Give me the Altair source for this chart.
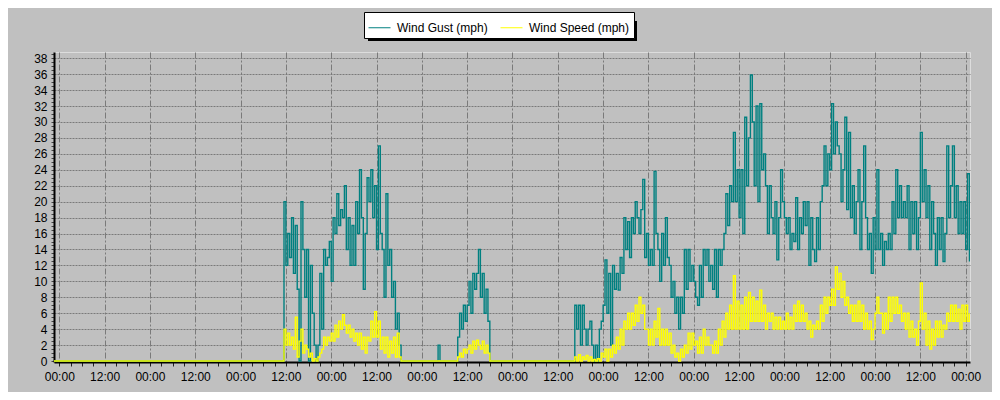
import altair as alt
import pandas as pd

SERIES = ["Wind Gust (mph)", "Wind Speed (mph)"]
COLORS = ["#008080", "#FFFF00"]
STEP_H = 0.5  # sampling interval of the readings, hours

# hours since the first 00:00 on the axis
START_0 = -2.0
GUST_0 = [0]
SPEED_0 = [0]

START_1 = 59.5
GUST_1 = [20, 12, 16, 13, 18, 11, 17, 9, 0, 20,
          14, 8, 14, 0, 12, 6, 2, 0, 2, 11,
          4, 14, 12, 13, 15, 10, 18, 16, 21, 17,
          19, 18, 22, 14, 18, 12, 17, 12, 20, 16,
          24, 18, 9, 16, 23, 20, 24, 18, 22, 14,
          27, 16, 14, 8, 21, 12, 14, 8, 10, 4,
          6, 2, 0]
SPEED_1 = [4, 2, 3.5, 2, 3, 1.5, 5.5, 0.5, 2.5, 4,
           1, 2, 1.5, 0.5, 1, 0, 0.3, 0, 0.5, 1,
           1.5, 3, 2, 3, 2.5, 3.5, 2.5, 4.5, 3, 5,
           4, 5.8, 4.5, 3.5, 4.5, 3, 4, 2.5, 3.5, 2,
           3.5, 1.5, 3, 1, 3, 2.5, 5, 3, 6.2, 3,
           5, 1.5, 3, 1, 3, 0.5, 2.5, 1, 3, 0.5,
           3.5, 0.5, 0]

START_2 = 100.3
GUST_2 = [2, 0]
SPEED_2 = [0, 0]

START_3 = 105.5
GUST_3 = [3, 6, 4, 7, 5, 7, 10, 6, 11, 9, 11, 14, 8, 11, 6, 9, 5, 0]
SPEED_3 = [0.5, 1, 0.5, 1.5, 1, 1.5, 2, 1, 2.5, 1.5, 2.6, 2, 1.5, 2.5, 1, 2, 1, 0]

START_4 = 136.5
GUST_4 = [7, 4, 7, 2, 7, 4, 2, 4, 5, 2,
          0, 2, 0, 4, 5, 7, 12.7, 6, 11, 2,
          12, 9, 11, 8.9, 13, 11, 18, 14, 17.5, 13,
          18, 16, 20, 18, 16, 19, 22.8, 13, 16, 12,
          14, 12, 23.8, 16, 14, 10, 16, 12, 18, 13,
          12, 8, 10, 6, 8, 4, 8, 6, 14, 9,
          14, 10, 12, 10, 8, 7, 12, 8, 14, 12,
          14, 10, 12, 9, 14, 8, 14, 12, 14, 16,
          21, 17, 22, 20, 28.7, 20, 24, 18, 24, 16,
          30.6, 22, 28, 35.9, 30, 22, 32, 20, 32.3, 24,
          26, 22, 16, 22, 18, 16, 20, 12.7, 18, 24,
          20, 18, 16, 18, 14, 16, 15, 20.5, 14, 18,
          16, 20, 17, 20, 12, 18, 14, 12.5, 18, 14,
          20, 22, 27, 22, 26, 24, 32.3, 26, 30, 27,
          26, 20, 24, 30.6, 19, 28.7, 18, 22, 16, 20,
          24, 14, 20, 27, 18, 14, 16, 11, 18, 14,
          24, 14, 16, 12, 15, 14, 16, 14, 20, 16,
          24, 18, 22, 18, 20, 18, 22, 14, 20, 16,
          20, 14, 18, 28.7, 20, 24, 18, 22, 14, 20,
          16, 12, 18, 14, 18, 12.5, 16, 27, 18, 22,
          27, 18, 22, 16, 20, 16, 20, 14, 23.5, 12.5]
SPEED_4 = [0.5, 0, 0.8, 0, 0.5, 0.2, 0.7, 0, 0.5, 0,
           0.2, 0, 0.3, 0, 1, 0.5, 1.5, 0, 1.5, 0.5,
           2, 1, 3, 1.5, 4, 2, 5, 4, 6, 4,
           6, 4.5, 7, 5, 8, 6, 7, 4, 4, 2,
           4, 2, 5, 3, 6.6, 2, 4, 2, 4, 2,
           3.5, 1, 2, 0.5, 1, 0, 1.5, 0.5, 2, 1,
           3.5, 1.5, 3.5, 2, 2.5, 1, 3, 1, 4, 2,
           3, 2, 2, 1, 2.5, 1, 4, 2, 5, 3,
           6, 4, 7, 4, 10.7, 4, 7.5, 4, 7, 4,
           8, 4, 8.6, 5, 8, 5, 7.5, 5, 8.9, 5,
           7, 4, 6, 5, 6, 4, 5.5, 4, 5.5, 4,
           5, 4, 6, 4, 5.5, 4, 7, 5, 7.5, 5,
           7, 5, 6, 4, 5, 3, 4.5, 4, 5, 4,
           7, 5, 8, 6, 8, 7, 9, 7, 11.8, 9,
           11, 8, 10, 7, 8, 6, 7, 5, 7, 5,
           7.5, 5, 7, 4, 6, 4, 5, 2.7, 4, 6,
           8, 6, 6, 3.5, 6, 4, 8, 5, 8, 6,
           8, 6, 7, 5, 6, 4, 6, 3, 5, 3,
           4, 2, 5, 9.8, 4, 6, 2, 5, 1.5, 4,
           2, 5, 3, 5, 3, 4.5, 4, 6, 5, 7,
           5, 7, 5, 6.5, 4, 7, 5, 7, 5, 6]

X_TICK_HOURS = list(range(0, 241, 3))
Y_TICKS = [i * 0.5 for i in range(78)]

segments = [
    (START_0, GUST_0, SPEED_0),
    (START_1, GUST_1, SPEED_1),
    (START_2, GUST_2, SPEED_2),
    (START_3, GUST_3, SPEED_3),
    (START_4, GUST_4, SPEED_4),
]
rows = []
for start, g, s in segments:
    for i, (gv, sv) in enumerate(zip(g, s)):
        t = start + i * STEP_H
        rows.append({"h": t, "series": SERIES[0], "v": gv})
        rows.append({"h": t, "series": SERIES[1], "v": sv})
df = pd.DataFrame(rows)

FONT = "Liberation Sans"

x_enc = alt.X(
    "h:Q",
    scale=alt.Scale(domain=[-1.4, 241.14], nice=False, zero=False),
    axis=alt.Axis(
        values=X_TICK_HOURS, title=None,
        labelExpr="datum.value % 24 == 0 ? '00:00' : (datum.value % 12 == 0 ? '12:00' : '')",
        grid=True, gridColor="#7a7a7a", gridDash=[6, 2, 2, 2],
        gridOpacity={"condition": {"test": "datum.value % 12 == 0", "value": 1}, "value": 0},
        domainColor="black", domainWidth=2, tickColor="#222222", tickSize=4,
        labelPadding=5, labelFont=FONT, labelFontSize=12, labelColor="black",
        labelOverlap=False, labelFlush=False, zindex=0,
    ),
)
y_enc = alt.Y(
    "v:Q",
    scale=alt.Scale(domain=[-0.12, 38.78], nice=False, zero=False),
    axis=alt.Axis(
        values=Y_TICKS, title=None,
        labelExpr="datum.value % 2 == 0 ? format(datum.value, 'd') : ''",
        grid=True, gridColor="#7a7a7a", gridDash=[2, 1],
        gridOpacity={"condition": {"test": "datum.value % 2 == 0 && datum.value > 0", "value": 1}, "value": 0},
        domainColor="black", domainWidth=2, tickColor="#444444", tickSize=3,
        labelPadding=4, labelFont=FONT, labelFontSize=12, labelColor="black",
        labelOverlap=False, labelFlush=False, zindex=0,
    ),
)
color_enc = alt.Color(
    "series:N",
    scale=alt.Scale(domain=SERIES, range=COLORS),
    legend=alt.Legend(
        title=None, orient="none", legendX=310, legendY=-40, direction="horizontal",
        fillColor="white", strokeColor="black", padding=4, cornerRadius=0,
        symbolType="stroke", symbolSize=484, symbolStrokeWidth=1,
        labelFont=FONT, labelFontSize=12, labelColor="black",
        columnPadding=10, labelOffset=6, labelLimit=300,
    ),
)

base = alt.Chart(df).encode(x=x_enc, y=y_enc, color=color_enc)
gust = base.transform_filter(alt.datum.series == SERIES[0]).mark_line(
    interpolate="step-after", strokeWidth=1.4, clip=True)
speed = base.transform_filter(alt.datum.series == SERIES[1]).mark_line(
    interpolate="step-after", strokeWidth=1.4, clip=True)

shadow = alt.Chart(pd.DataFrame({"a": [0]})).mark_rect(color="black", clip=False).encode(
    x=alt.value(314), x2=alt.value(583), y=alt.value(-31), y2=alt.value(-11))

chart = alt.layer(shadow, gust, speed).properties(
    width=916, height=310, background="#C0C0C0",
    padding={"left": 46, "top": 44, "right": 22, "bottom": 30},
    autosize=alt.AutoSizeParams(type="none"),
).configure_view(stroke="black", strokeWidth=2).configure(font=FONT)

chart.save("out.html", embed_options={"renderer": "svg", "actions": False})
